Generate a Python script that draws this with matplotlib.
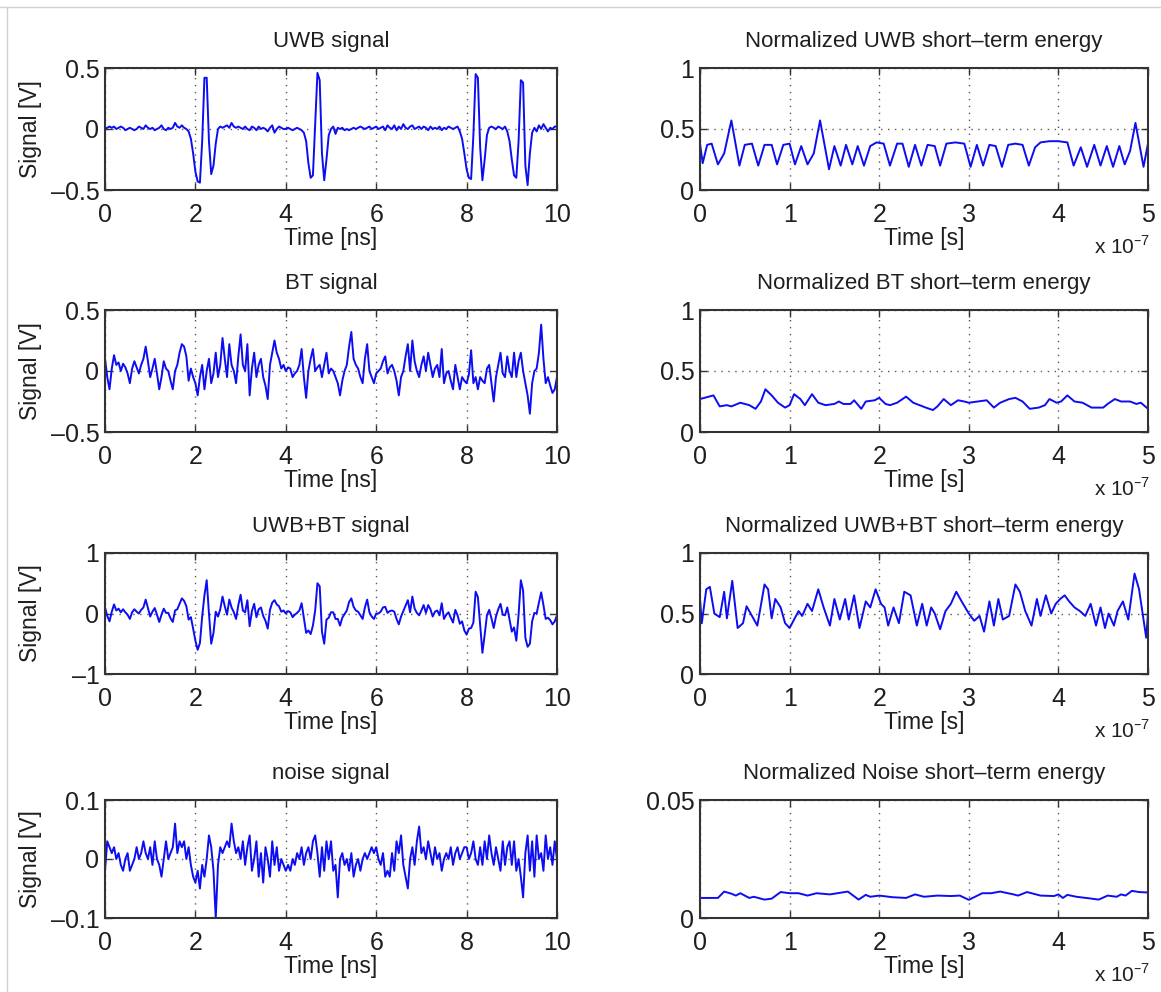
import numpy as np
import matplotlib
matplotlib.use('Agg')
import matplotlib.pyplot as plt
from matplotlib.lines import Line2D

plt.rcParams['font.family'] = ['Liberation Sans', 'DejaVu Sans']

# time axis of the left-hand signals, ns (sampled every 0.05 ns)
t_ns = np.arange(201) * 0.05

uwb_signal = [
    0.0, 0.01, 0.02, 0.01, 0.02, 0.0, 0.01, 0.02, 0.01, -0.01, 0.0, 0.01, 0.0, -0.01, 0.0, 0.02, 0.01, 0.0, 0.03, 0.01,
    0.0, 0.01, -0.01, 0.0, 0.01, 0.03, 0.0, -0.01, 0.01, 0.0, 0.01, 0.05, 0.02, 0.01, 0.03, 0.01, 0.0, -0.02, -0.08, -0.2,
    -0.35, -0.43, -0.44, -0.1, 0.42, 0.42, -0.1, -0.37, -0.3, -0.12, 0.0, 0.02, 0.01, 0.02, 0.03, 0.01, 0.05, 0.02, 0.01, 0.02,
    0.01, 0.0, 0.02, 0.0, -0.01, 0.02, 0.01, -0.01, 0.02, 0.0, 0.01, 0.0, -0.02, 0.01, 0.03, -0.03, 0.0, 0.02, 0.01, 0.0,
    0.0, 0.01, 0.0, -0.01, 0.0, 0.01, 0.0, -0.01, -0.03, -0.1, -0.28, -0.4, -0.38, 0.05, 0.46, 0.4, -0.2, -0.42, -0.25, -0.05,
    0.0, 0.02, -0.04, 0.01, 0.0, 0.01, -0.01, 0.0, -0.01, 0.0, 0.01, 0.0, 0.01, 0.02, 0.01, 0.0, 0.01, 0.02, 0.0, 0.01,
    0.02, 0.0, 0.01, 0.02, -0.01, 0.03, 0.01, 0.0, 0.03, -0.01, 0.02, 0.0, 0.04, 0.01, 0.0, 0.02, 0.03, 0.0, 0.01, 0.02,
    0.0, 0.02, 0.01, -0.01, 0.02, 0.0, 0.01, 0.0, 0.02, -0.01, 0.01, 0.0, 0.02, 0.01, 0.0, 0.01, 0.02, -0.02, -0.08, -0.2,
    -0.33, -0.4, -0.41, -0.05, 0.45, 0.42, -0.15, -0.42, -0.25, -0.05, 0.01, 0.02, 0.01, 0.0, 0.02, 0.01, 0.0, 0.02, -0.02, -0.1,
    -0.25, -0.38, -0.4, -0.1, 0.4, 0.38, -0.3, -0.46, -0.2, -0.03, 0.01, -0.02, 0.03, 0.0, 0.04, 0.01, -0.02, 0.01, 0.0, 0.02,
    0.02]

bt_signal = [
    0.10, -0.05, -0.15, 0.02, 0.13, 0.05, 0.07, 0.0, 0.06, 0.03, -0.02, -0.10, 0.02, 0.08, 0.03, -0.02, 0.05, 0.10, 0.20, 0.08,
    -0.05, 0.02, 0.10, -0.02, -0.15, -0.05, 0.08, 0.02, 0.0, -0.08, -0.15, 0.0, 0.05, 0.15, 0.22, 0.20, 0.12, -0.08, 0.02, -0.05,
    -0.10, -0.20, -0.05, 0.05, -0.15, 0.0, 0.10, -0.10, -0.02, 0.15, -0.05, 0.05, 0.27, 0.10, -0.05, 0.22, 0.05, 0.0, -0.10, 0.12,
    0.30, 0.05, 0.0, 0.22, -0.20, 0.02, 0.15, -0.05, 0.05, 0.10, -0.05, -0.12, -0.23, 0.05, 0.15, 0.25, 0.15, 0.10, 0.02, 0.05,
    0.0, 0.03, 0.02, -0.05, -0.02, 0.0, 0.05, 0.18, -0.05, -0.22, 0.0, 0.10, 0.18, 0.0, 0.03, 0.05, -0.05, 0.05, 0.15, -0.02,
    0.02, 0.0, -0.05, -0.10, -0.20, -0.08, 0.0, 0.05, 0.20, 0.32, 0.10, 0.05, 0.02, -0.05, -0.10, 0.10, 0.22, 0.0, -0.05, -0.10,
    -0.02, 0.0, 0.02, 0.08, 0.12, -0.02, 0.03, 0.05, 0.0, -0.08, -0.20, -0.05, 0.0, 0.12, 0.22, 0.0, 0.25, 0.08, 0.0, -0.05,
    0.05, 0.12, 0.0, 0.15, 0.05, -0.05, 0.02, 0.05, -0.05, 0.18, -0.10, -0.02, 0.0, -0.08, -0.15, 0.05, -0.05, -0.15, -0.05, -0.08,
    -0.10, -0.03, 0.17, -0.10, -0.05, -0.15, -0.05, -0.08, -0.10, 0.02, 0.05, -0.10, -0.25, -0.05, 0.05, 0.15, -0.02, -0.05, 0.12, 0.0,
    -0.05, 0.15, -0.05, 0.08, 0.15, 0.0, -0.10, -0.20, -0.35, -0.10, 0.0, 0.02, 0.15, 0.38, 0.10, -0.10, -0.05, -0.12, -0.18, -0.15,
    -0.05]

mix_signal = [
    0.10, -0.04, -0.13, 0.03, 0.15, 0.05, 0.08, 0.02, 0.07, 0.02, -0.02, -0.09, 0.02, 0.07, 0.03, 0.0, 0.06, 0.10, 0.23, 0.09,
    -0.05, 0.03, 0.09, -0.02, -0.14, -0.02, 0.08, 0.01, 0.01, -0.08, -0.14, 0.05, 0.07, 0.16, 0.25, 0.21, 0.12, -0.10, -0.06, -0.25,
    -0.45, -0.60, -0.49, -0.05, 0.30, 0.55, 0.0, -0.50, -0.32, 0.03, -0.05, 0.07, 0.28, 0.12, -0.02, 0.23, 0.10, 0.02, -0.09, 0.14,
    0.31, 0.05, 0.02, 0.22, -0.21, 0.04, 0.16, -0.06, 0.07, 0.10, -0.04, -0.12, -0.25, 0.06, 0.18, 0.22, 0.15, 0.12, 0.03, 0.05,
    0.0, 0.04, 0.02, -0.06, -0.02, 0.01, 0.05, 0.17, -0.08, -0.32, -0.28, -0.34, -0.20, 0.05, 0.50, 0.45, -0.30, -0.50, -0.10, -0.07,
    0.02, 0.02, -0.09, -0.09, -0.20, -0.07, -0.01, 0.05, 0.19, 0.25, 0.11, 0.05, 0.03, -0.03, -0.09, 0.10, 0.23, 0.02, -0.05, -0.09,
    0.0, 0.0, 0.03, 0.10, 0.11, 0.01, 0.04, 0.05, 0.03, -0.09, -0.18, -0.05, 0.04, 0.13, 0.22, 0.02, 0.28, 0.08, 0.01, -0.03,
    0.05, 0.14, 0.01, 0.14, 0.07, -0.05, 0.03, 0.05, -0.03, 0.17, -0.09, -0.02, 0.02, -0.07, -0.15, 0.06, -0.03, -0.17, -0.13, -0.28,
    -0.35, -0.25, -0.24, -0.15, 0.36, 0.27, -0.20, -0.65, -0.35, -0.03, 0.06, -0.08, -0.24, -0.05, 0.07, 0.16, -0.02, -0.03, 0.10, -0.10,
    -0.30, -0.23, -0.45, -0.02, 0.55, 0.38, -0.40, -0.55, -0.50, -0.13, 0.01, 0.0, 0.18, 0.35, 0.14, -0.09, -0.07, -0.11, -0.18, -0.13,
    -0.03]

noise_signal = [
    -0.02, 0.03, 0.02, 0.01, 0.02, 0.0, 0.01, -0.01, -0.02, 0.0, 0.01, -0.02, -0.01, 0.0, 0.02, 0.0, 0.01, 0.03, 0.01, 0.0,
    0.02, -0.01, 0.03, 0.0, -0.01, -0.03, 0.0, 0.03, 0.0, 0.01, 0.02, 0.06, 0.01, 0.03, 0.02, 0.03, 0.0, 0.02, -0.01, -0.03,
    -0.04, -0.02, -0.05, -0.01, -0.03, 0.0, 0.04, 0.02, -0.02, -0.10, -0.01, 0.02, 0.01, 0.02, 0.03, 0.02, 0.06, 0.03, 0.01, 0.02,
    0.0, 0.03, -0.01, 0.02, 0.04, -0.02, 0.0, 0.03, -0.03, 0.01, -0.04, 0.02, 0.0, -0.03, 0.03, -0.01, 0.02, -0.02, 0.0, -0.01,
    -0.02, -0.01, -0.02, 0.0, -0.01, 0.01, 0.0, 0.02, -0.01, 0.01, 0.02, 0.0, 0.03, 0.04, 0.01, -0.03, 0.02, -0.02, 0.03, 0.0,
    0.03, -0.02, -0.01, -0.065, 0.0, 0.01, -0.01, 0.0, -0.02, 0.01, -0.03, -0.01, 0.0, -0.02, 0.0, 0.01, 0.0, 0.01, 0.02, 0.01,
    0.02, 0.0, -0.01, 0.01, -0.03, -0.02, -0.03, 0.01, -0.02, 0.03, 0.01, 0.04, -0.01, -0.03, -0.05, 0.0, 0.02, -0.01, 0.03, 0.055,
    0.01, 0.02, 0.0, 0.03, 0.01, -0.01, 0.02, 0.0, 0.01, -0.02, 0.0, 0.01, 0.0, 0.02, -0.01, 0.01, 0.02, 0.0, 0.01, 0.02,
    0.02, 0.0, 0.01, 0.03, 0.0, -0.01, 0.02, -0.01, 0.03, 0.0, 0.04, 0.01, -0.01, 0.02, 0.0, -0.02, 0.03, -0.01, 0.02, 0.03,
    -0.01, 0.03, -0.02, 0.0, -0.03, -0.065, 0.01, 0.04, -0.02, 0.03, -0.03, 0.04, 0.0, 0.01, -0.02, 0.04, 0.0, 0.02, -0.01, 0.03,
    0.0]

# short-term energies, time in units of 1e-7 s
uwb_e_t = [0.00, 0.03, 0.08, 0.13, 0.20, 0.27, 0.35, 0.44, 0.50, 0.58, 0.65, 0.72, 0.80, 0.86, 0.93, 1.00, 1.06, 1.13, 1.20, 1.27,
           1.34, 1.44, 1.50, 1.57, 1.63, 1.70, 1.76, 1.83, 1.90, 1.97, 2.05, 2.12, 2.20, 2.26, 2.33, 2.40, 2.47, 2.54, 2.62, 2.68,
           2.75, 2.85, 2.95, 3.02, 3.09, 3.16, 3.23, 3.30, 3.37, 3.44, 3.52, 3.60, 3.67, 3.74, 3.80, 3.90, 4.00, 4.10, 4.17, 4.25,
           4.32, 4.40, 4.47, 4.54, 4.61, 4.68, 4.74, 4.80, 4.86, 4.95, 5.00]
uwb_e_v = [0.38, 0.22, 0.37, 0.38, 0.21, 0.30, 0.57, 0.20, 0.37, 0.38, 0.20, 0.37, 0.37, 0.21, 0.37, 0.38, 0.21, 0.36, 0.21, 0.30,
           0.57, 0.17, 0.36, 0.20, 0.37, 0.21, 0.36, 0.20, 0.36, 0.39, 0.38, 0.20, 0.38, 0.38, 0.19, 0.37, 0.20, 0.37, 0.36, 0.20,
           0.38, 0.39, 0.38, 0.19, 0.37, 0.20, 0.37, 0.36, 0.19, 0.37, 0.38, 0.37, 0.20, 0.35, 0.39, 0.40, 0.40, 0.39, 0.20, 0.35,
           0.19, 0.37, 0.20, 0.36, 0.19, 0.36, 0.21, 0.32, 0.55, 0.19, 0.38]

bt_e_t = [0.00, 0.10, 0.15, 0.22, 0.30, 0.35, 0.45, 0.55, 0.62, 0.68, 0.73, 0.80, 0.87, 0.95, 1.00, 1.05, 1.12, 1.17, 1.25, 1.32,
          1.40, 1.50, 1.55, 1.60, 1.68, 1.72, 1.80, 1.85, 1.95, 2.00, 2.07, 2.12, 2.20, 2.30, 2.38, 2.45, 2.52, 2.60, 2.65, 2.72,
          2.80, 2.88, 2.95, 3.00, 3.10, 3.20, 3.28, 3.35, 3.45, 3.52, 3.60, 3.68, 3.78, 3.85, 3.90, 3.98, 4.03, 4.10, 4.18, 4.27,
          4.37, 4.50, 4.55, 4.63, 4.70, 4.80, 4.87, 4.92, 5.00]
bt_e_v = [0.27, 0.29, 0.30, 0.21, 0.22, 0.21, 0.24, 0.22, 0.19, 0.25, 0.35, 0.30, 0.24, 0.20, 0.22, 0.31, 0.27, 0.22, 0.31, 0.24,
          0.22, 0.23, 0.25, 0.23, 0.23, 0.26, 0.19, 0.25, 0.26, 0.28, 0.23, 0.22, 0.24, 0.29, 0.24, 0.22, 0.20, 0.18, 0.21, 0.27,
          0.22, 0.26, 0.25, 0.24, 0.25, 0.26, 0.20, 0.24, 0.27, 0.28, 0.25, 0.19, 0.20, 0.22, 0.27, 0.24, 0.25, 0.30, 0.25, 0.24,
          0.20, 0.20, 0.23, 0.27, 0.25, 0.25, 0.23, 0.24, 0.19]

mix_e_t = [0.00, 0.02, 0.07, 0.11, 0.16, 0.22, 0.27, 0.30, 0.36, 0.42, 0.48, 0.52, 0.58, 0.64, 0.72, 0.76, 0.80, 0.84, 0.90, 0.95,
           1.00, 1.05, 1.10, 1.14, 1.20, 1.25, 1.32, 1.38, 1.45, 1.50, 1.56, 1.62, 1.66, 1.72, 1.78, 1.85, 1.90, 1.96, 2.02, 2.06,
           2.10, 2.16, 2.22, 2.28, 2.35, 2.42, 2.48, 2.53, 2.58, 2.62, 2.68, 2.74, 2.80, 2.86, 2.92, 2.96, 3.00, 3.06, 3.12, 3.17,
           3.23, 3.28, 3.33, 3.38, 3.45, 3.52, 3.57, 3.63, 3.70, 3.76, 3.80, 3.86, 3.92, 3.97, 4.02, 4.07, 4.12, 4.18, 4.24, 4.30,
           4.36, 4.42, 4.47, 4.52, 4.56, 4.62, 4.66, 4.72, 4.78, 4.85, 4.90, 4.95, 4.98, 5.00]
mix_e_v = [0.62, 0.42, 0.70, 0.72, 0.50, 0.47, 0.68, 0.46, 0.77, 0.38, 0.42, 0.56, 0.48, 0.40, 0.74, 0.70, 0.46, 0.62, 0.55, 0.42,
           0.38, 0.45, 0.52, 0.48, 0.58, 0.52, 0.70, 0.55, 0.40, 0.62, 0.45, 0.62, 0.45, 0.65, 0.38, 0.60, 0.55, 0.70, 0.58, 0.55,
           0.40, 0.55, 0.42, 0.68, 0.65, 0.40, 0.58, 0.40, 0.55, 0.50, 0.37, 0.52, 0.58, 0.68, 0.60, 0.55, 0.50, 0.44, 0.48, 0.35,
           0.60, 0.40, 0.62, 0.45, 0.48, 0.74, 0.68, 0.52, 0.40, 0.62, 0.48, 0.65, 0.50, 0.58, 0.62, 0.65, 0.60, 0.55, 0.52, 0.48,
           0.58, 0.40, 0.55, 0.38, 0.50, 0.40, 0.52, 0.60, 0.45, 0.83, 0.70, 0.45, 0.30, 0.50]

noise_e_t = [0.00, 0.20, 0.27, 0.35, 0.40, 0.45, 0.55, 0.60, 0.72, 0.80, 0.90, 1.00, 1.10, 1.20, 1.30, 1.45, 1.65, 1.77, 1.85, 1.90,
             2.00, 2.15, 2.30, 2.40, 2.50, 2.65, 2.80, 2.90, 3.00, 3.15, 3.25, 3.35, 3.50, 3.55, 3.65, 3.80, 3.95, 4.00, 4.05, 4.10,
             4.20, 4.35, 4.45, 4.55, 4.65, 4.70, 4.75, 4.82, 4.90, 5.00]
noise_e_v = [0.0085, 0.0085, 0.0112, 0.0103, 0.0095, 0.0105, 0.0085, 0.0090, 0.0078, 0.0082,
             0.0110, 0.0105, 0.0105, 0.0095, 0.0105, 0.0100, 0.0112, 0.0078, 0.0098, 0.0090,
             0.0095, 0.0088, 0.0085, 0.0100, 0.0090, 0.0095, 0.0093, 0.0095, 0.0077, 0.0105,
             0.0105, 0.0112, 0.0100, 0.0095, 0.0110, 0.0095, 0.0093, 0.0100, 0.0085, 0.0098,
             0.0090, 0.0083, 0.0078, 0.0095, 0.0090, 0.0100, 0.0095, 0.0115, 0.0110, 0.0108]

left_titles = ['UWB signal', 'BT signal', 'UWB+BT signal', 'noise signal']
right_titles = ['Normalized UWB short\u2013term energy', 'Normalized BT short\u2013term energy',
                'Normalized UWB+BT short\u2013term energy', 'Normalized Noise short\u2013term energy']

DASH = '\u2013'
TXT = '0.12'


def style_axes(ax, xlim, xticks, ylim, yticks, yticklabels):
    ax.set_xlim(xlim)
    ax.set_ylim(ylim)
    ax.set_xticks(xticks)
    ax.set_xticklabels([str(v) for v in xticks])
    ax.set_yticks(yticks)
    ax.set_yticklabels(yticklabels)
    ax.tick_params(direction='in', top=True, right=True, length=5, width=1,
                   labelsize=18, colors='0.2', labelcolor=TXT)
    ax.tick_params(axis='x', pad=9)
    ax.tick_params(axis='y', pad=4)
    ax.grid(True, linestyle=(0, (1, 4)), color='0.35', linewidth=1)
    for s in ax.spines.values():
        s.set_linewidth(1.5)
        s.set_color('0.2')


fig = plt.figure(figsize=(11.61, 9.92), dpi=100)
W, H = 1161.0, 992.0
rows = [(68, 190), (310, 432), (553, 674), (800, 918)]

left_data = [uwb_signal, bt_signal, mix_signal, noise_signal]
left_lims = [(-0.5, 0.5), (-0.5, 0.5), (-1, 1), (-0.1, 0.1)]
left_yt = [([-0.5, 0, 0.5], [DASH + '0.5', '0', '0.5']),
           ([-0.5, 0, 0.5], [DASH + '0.5', '0', '0.5']),
           ([-1, 0, 1], [DASH + '1', '0', '1']),
           ([-0.1, 0, 0.1], [DASH + '0.1', '0', '0.1'])]

right_data = [(uwb_e_t, uwb_e_v), (bt_e_t, bt_e_v), (mix_e_t, mix_e_v), (noise_e_t, noise_e_v)]
right_lims = [(0, 1), (0, 1), (0, 1), (0, 0.05)]
right_yt = [([0, 0.5, 1], ['0', '0.5', '1'])] * 3 + [([0, 0.05], ['0', '0.05'])]

for i, (top, bot) in enumerate(rows):
    rect_b = 1 - bot / H
    rect_h = (bot - top) / H

    # signal panel
    ax = fig.add_axes([105 / W, rect_b, 452 / W, rect_h])
    ax.plot(t_ns, left_data[i], color=(0.05, 0.05, 0.95), linewidth=1.4)
    style_axes(ax, (0, 10), [0, 2, 4, 6, 8, 10], left_lims[i], *left_yt[i])
    ax.set_title(left_titles[i], fontsize=16, pad=15, color=TXT)
    ax.set_xlabel('Time [ns]', fontsize=16.5, labelpad=0, color=TXT)
    ax.set_ylabel('Signal [V]', fontsize=16.5, color=TXT)
    ax.yaxis.set_label_coords(-0.14, 0.5)

    # energy panel
    ax = fig.add_axes([700 / W, rect_b, 448 / W, rect_h])
    ax.plot(right_data[i][0], right_data[i][1], color=(0.05, 0.05, 0.95), linewidth=1.4)
    style_axes(ax, (0, 5), [0, 1, 2, 3, 4, 5], right_lims[i], *right_yt[i])
    ax.set_title(right_titles[i], fontsize=16, pad=15, color=TXT)
    ax.set_xlabel('Time [s]', fontsize=16.5, labelpad=0, color=TXT)
    ax.annotate('x 10$^{\\mathregular{' + DASH + '7}}$', xy=(1, 0), xycoords='axes fraction',
                xytext=(2, -41), textcoords='offset points', ha='right', va='center',
                fontsize=15, color=TXT)

# light frame of the original screenshot
fig.add_artist(Line2D([0, 1], [1 - 7 / H, 1 - 7 / H], color='0.82', linewidth=1))
fig.add_artist(Line2D([7 / W, 7 / W], [0, 1 - 7 / H], color='0.82', linewidth=1))

fig.savefig('out.png', dpi=100)
